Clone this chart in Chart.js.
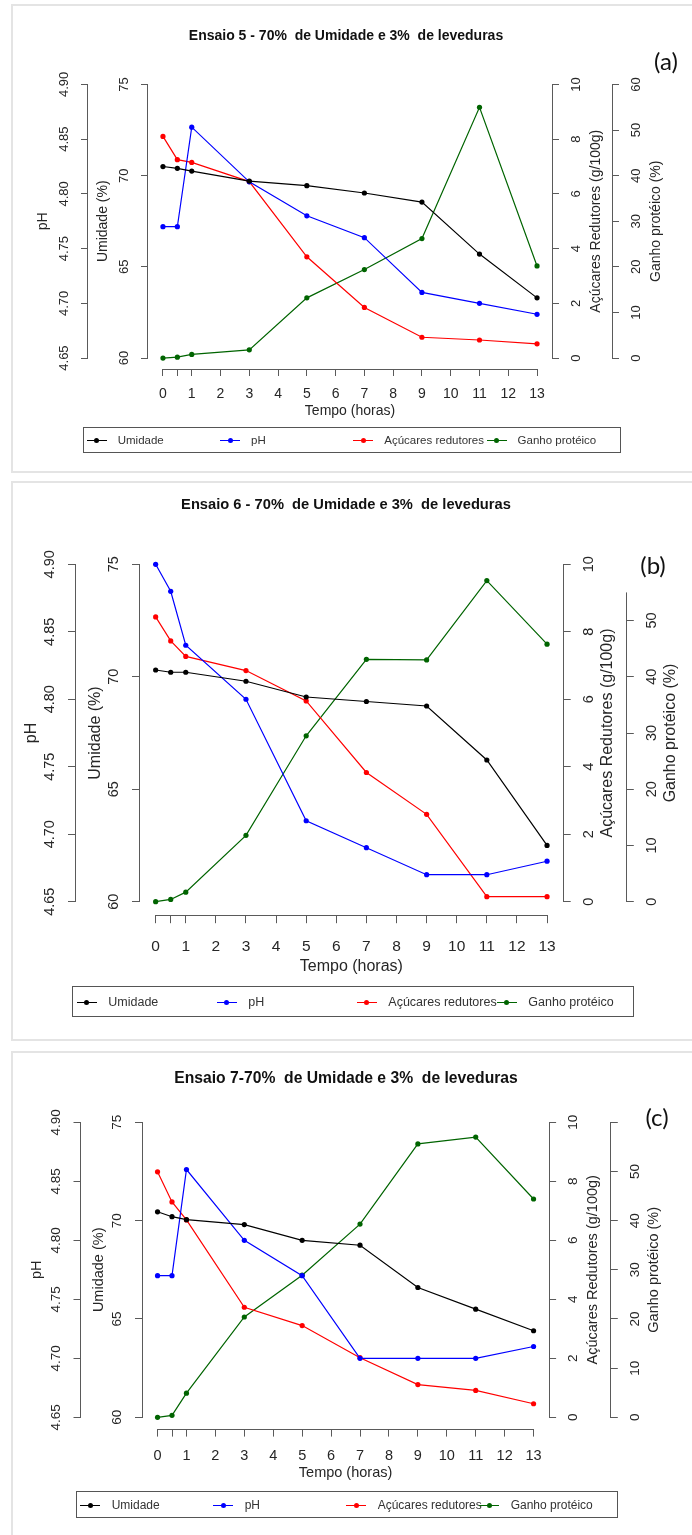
<!DOCTYPE html>
<html lang="pt-BR">
<head>
<meta charset="utf-8">
<title>Ensaios 5, 6 e 7 - 70% de Umidade e 3% de leveduras</title>
<script src="https://cdn.jsdelivr.net/npm/chart.js@4.4.1/dist/chart.umd.min.js"></script>
<style>
    html, body { margin: 0; padding: 0; background: #fff; }
    body { position: relative; width: 692px; height: 1535px; overflow: hidden; font-family: 'Liberation Sans', Arial, sans-serif; }
    .painel { position: absolute; left: 11px; width: 700px; border: 2px solid #e4e4e4; box-sizing: border-box; }
    canvas { position: absolute; left: 0; }
    .letra { position: absolute; font-family: Lato, 'Open Sans', sans-serif; font-size: 24px; line-height: 1; color: #111; transform: translate(-50%, -50%); }
    .legenda { position: absolute; border: 1px solid #555; box-sizing: border-box; }
    .legenda span { position: absolute; }
    .legenda .texto { color: #333; white-space: nowrap; top: 50%; transform: translateY(-50%); }
    .legenda .linha { width: 20px; height: 1px; top: 50%; }
    .legenda .ponto { width: 5px; height: 5px; border-radius: 50%; top: calc(50% - 2px); }
</style>
</head>
<body>
<div class="painel" style="top:4px;height:469px"></div>
<div class="painel" style="top:481px;height:560px"></div>
<div class="painel" style="top:1051px;height:500px"></div>

<canvas id="ensaio5" width="692" height="476" style="top:0px"></canvas>
<canvas id="ensaio6" width="692" height="570" style="top:477px"></canvas>
<canvas id="ensaio7" width="692" height="488" style="top:1047px"></canvas>

<div class="legenda" id="leg5" style="left:83px;top:427px;width:538px;height:26px"></div>
<div class="legenda" id="leg6" style="left:72px;top:986px;width:562px;height:31px"></div>
<div class="legenda" id="leg7" style="left:76px;top:1491px;width:542px;height:27px"></div>

<div class="letra" style="left:666px;top:61px">(a)</div>
<div class="letra" style="left:653px;top:565px">(b)</div>
<div class="letra" style="left:657px;top:1117px">(c)</div>

<script>
// tempos de coleta (horas) e marcas do eixo x
const horas = [0, 0.5, 1, 3, 5, 7, 9, 11, 13];
const marcasTempo = [0, 0.5, 1, 2, 3, 4, 5, 6, 7, 8, 9, 10, 11, 12, 13];

const series = ['Umidade', 'pH', 'Açúcares redutores', 'Ganho protéico'];
const cores = ['#000000', '#0000ff', '#ff0000', '#006400'];

// marcas dos eixos y
const marcasPH = [4.65, 4.70, 4.75, 4.80, 4.85, 4.90];
const marcasUmidade = [60, 65, 70, 75];
const marcasAcucares = [0, 2, 4, 6, 8, 10];
const marcasGanho = [0, 10, 20, 30, 40, 50, 60];
const marcasGanho6 = [0, 10, 20, 30, 40, 50];

// Ensaio 5
const umidade5 = [70.5, 70.4, 70.25, 69.7, 69.45, 69.05, 68.55, 65.7, 63.3];
const ph5 = [4.770, 4.770, 4.861, 4.811, 4.780, 4.760, 4.710, 4.700, 4.690];
const acucares5 = [8.10, 7.25, 7.15, 6.45, 3.70, 1.85, 0.76, 0.66, 0.52];
const ganho5 = [0, 0.2, 0.8, 1.8, 13.2, 19.4, 26.2, 55.0, 20.2];

// Ensaio 6
const umidade6 = [70.3, 70.2, 70.2, 69.8, 69.1, 68.9, 68.7, 66.3, 62.5];
const ph6 = [4.900, 4.880, 4.840, 4.800, 4.710, 4.690, 4.670, 4.670, 4.680];
const acucares6 = [8.44, 7.73, 7.27, 6.85, 5.95, 3.83, 2.59, 0.15, 0.15];
const ganho6 = [0, 0.4, 1.7, 11.8, 29.5, 43.1, 43.0, 57.1, 45.8];

// Ensaio 7
const umidade7 = [70.45, 70.2, 70.05, 69.8, 69.0, 68.75, 66.6, 65.5, 64.4];
const ph7 = [4.770, 4.770, 4.860, 4.800, 4.770, 4.700, 4.700, 4.700, 4.710];
const acucares7 = [8.32, 7.30, 6.69, 3.73, 3.11, 2.02, 1.11, 0.91, 0.46];
const ganho7 = [0, 0.4, 4.9, 20.4, 28.9, 39.3, 55.6, 57.0, 44.4];

const familia = "'Liberation Sans', Arial, Helvetica, sans-serif";
const corEixo = '#5a5a5a';
const corTexto = '#262626';

Chart.defaults.font.family = familia;

const medidor = document.createElement('canvas').getContext('2d');
function medir(textos, tamanho) {
    medidor.font = tamanho + 'px ' + familia;
    return Math.max(...textos.map(t => medidor.measureText(t).width));
}

// linhas dos eixos no estilo do R (da primeira a ultima marca) e titulos do lado direito
const eixosR = {
    id: 'eixosR',
    afterDraw(chart, args, opts) {
        const ctx = chart.ctx;
        ctx.save();
        ctx.strokeStyle = corEixo;
        ctx.lineWidth = 1;
        Object.values(chart.scales).forEach(s => {
            const valores = s.ticks.map(t => t.value);
            let a = Math.min(...valores), b = Math.max(...valores);
            const ext = (opts.extensao || {})[s.id];
            if (ext) { a = ext[0]; b = ext[1]; }
            const p1 = s.getPixelForValue(a), p2 = s.getPixelForValue(b);
            ctx.beginPath();
            if (s.isHorizontal()) {
                const y = Math.round(s.top) + 0.5;
                ctx.moveTo(p1, y); ctx.lineTo(p2, y);
            } else {
                const x = s.position === 'left' ? Math.round(s.right) - 0.5 : Math.round(s.left) + 0.5;
                ctx.moveTo(x, p1); ctx.lineTo(x, p2);
            }
            ctx.stroke();
        });
        const meio = (chart.chartArea.top + chart.chartArea.bottom) / 2;
        (opts.titulosDireita || []).forEach(t => {
            const s = chart.scales[t.eixo];
            ctx.save();
            ctx.translate(s.left + opts.distancia, meio);
            ctx.rotate(-Math.PI / 2);
            ctx.font = opts.fonte + 'px ' + familia;
            ctx.fillStyle = corTexto;
            ctx.textAlign = 'center';
            ctx.textBaseline = 'middle';
            ctx.fillText(t.texto, 0, 0);
            ctx.restore();
        });
        ctx.restore();
    }
};

// legenda em HTML com colunas de largura fixa, como no R
const legendaHtml = {
    id: 'legendaHtml',
    afterUpdate(chart, args, opts) {
        const caixa = document.getElementById(opts.caixa);
        caixa.innerHTML = '';
        const itens = chart.options.plugins.legend.labels.generateLabels(chart);
        itens.forEach((item, i) => {
            const x = opts.inicio + i * opts.coluna;
            const linha = document.createElement('span');
            linha.className = 'linha';
            linha.style.left = (x - 10) + 'px';
            linha.style.background = item.strokeStyle;
            const ponto = document.createElement('span');
            ponto.className = 'ponto';
            ponto.style.left = (x - 2.5) + 'px';
            ponto.style.background = item.strokeStyle;
            const texto = document.createElement('span');
            texto.className = 'texto';
            texto.style.left = (x + opts.recuo) + 'px';
            texto.style.fontSize = opts.fonte + 'px';
            texto.textContent = item.text;
            caixa.append(linha, ponto, texto);
        });
    }
};

function serie(i, valores, eixo) {
    return {
        label: series[i],
        data: horas.map((h, k) => ({ x: h, y: valores[k] })),
        yAxisID: eixo,
        borderColor: cores[i],
        backgroundColor: cores[i],
        borderWidth: 1.2,
        pointRadius: 2.6,
        pointBorderWidth: 0,
        pointHoverRadius: 2.6
    };
}

function eixoY(o, p) {
    const rotulos = o.marcas.map(o.formato);
    const larg = medir(rotulos, p.fonteY);
    const folga = (o.max - o.min) * 0.04;
    const lh = p.fonteTitEixo * 1.2;
    return {
        type: 'linear',
        position: o.lado,
        weight: o.peso,
        min: o.min - folga,
        max: o.max + folga,
        afterBuildTicks: s => { s.ticks = o.marcas.map(v => ({ value: v })); },
        afterFit: s => { s.width = o.largura; },
        border: { display: false },
        grid: { drawOnChartArea: false, tickLength: p.tick, color: corEixo },
        ticks: {
            autoSkip: false, minRotation: 90, maxRotation: 90, crossAlign: 'center',
            padding: p.dRotY - p.tick - larg / 2,
            font: { size: p.fonteY }, color: corTexto,
            callback: v => o.formato(v)
        },
        title: {
            display: o.lado === 'left', text: o.titulo,
            font: { size: p.fonteTitEixo }, color: corTexto,
            padding: { top: o.largura - p.dTitY - lh / 2, bottom: 0 }
        }
    };
}

function criarGrafico(p) {
    const lhTit = p.fonteTitulo * 1.2;
    const lhX = p.fonteX * 1.2;
    const lhTitX = p.fonteTitEixo * 1.2;
    const altX = p.dTitX + lhTitX / 2 + 4;
    const semRotulo = p.semRotuloGanho || [];
    new Chart(document.getElementById(p.canvas), {
        type: 'line',
        data: {
            datasets: [
                serie(0, p.umidade, 'um'),
                serie(1, p.ph, 'ph'),
                serie(2, p.acucares, 'ac'),
                serie(3, p.ganho, 'gp')
            ]
        },
        options: {
            responsive: false,
            animation: false,
            devicePixelRatio: 1,
            events: [],
            layout: { autoPadding: false, padding: { left: 0, right: 0, top: 0, bottom: p.altura - p.base - altX } },
            scales: {
                x: {
                    type: 'linear', min: -0.52, max: 13.52,
                    afterBuildTicks: s => { s.ticks = marcasTempo.map(v => ({ value: v })); },
                    afterFit: s => { s.height = altX; },
                    border: { display: false },
                    grid: { drawOnChartArea: false, tickLength: p.tick, color: corEixo },
                    ticks: {
                        autoSkip: false, maxRotation: 0,
                        padding: p.dRotX - p.tick - lhX / 2,
                        font: { size: p.fonteX }, color: corTexto,
                        callback: v => v === 0.5 ? '' : String(v)
                    },
                    title: { display: true, text: 'Tempo (horas)', font: { size: p.fonteTitEixo }, color: corTexto, padding: { top: 0, bottom: 4 } }
                },
                ph: eixoY({ lado: 'left', peso: 1, min: 4.65, max: 4.90, marcas: marcasPH, formato: v => v.toFixed(2), largura: p.larguras[0], titulo: 'pH' }, p),
                um: eixoY({ lado: 'left', peso: 0, min: 60, max: 75, marcas: marcasUmidade, formato: v => String(v), largura: p.larguras[1], titulo: 'Umidade (%)' }, p),
                ac: eixoY({ lado: 'right', peso: 0, min: 0, max: 10, marcas: marcasAcucares, formato: v => String(v), largura: p.larguras[2] }, p),
                gp: eixoY({ lado: 'right', peso: 1, min: 0, max: 60, marcas: p.marcasGanho, formato: v => semRotulo.includes(v) ? '' : String(v), largura: p.larguras[3] }, p)
            },
            plugins: {
                legend: { display: false },
                tooltip: { enabled: false },
                title: {
                    display: true, text: p.titulo, color: '#111',
                    font: { weight: 'bold', size: p.fonteTitulo },
                    padding: { top: p.tituloY - lhTit / 2, bottom: p.topo - p.tituloY - lhTit / 2 }
                },
                eixosR: {
                    distancia: p.dTitY, fonte: p.fonteTitEixo, extensao: p.extensao,
                    titulosDireita: [
                        { eixo: 'ac', texto: 'Açúcares Redutores (g/100g)' },
                        { eixo: 'gp', texto: 'Ganho protéico (%)' }
                    ]
                },
                legendaHtml: p.legenda
            }
        },
        plugins: [eixosR, legendaHtml]
    });
}

criarGrafico({
    canvas: 'ensaio5', altura: 476,
    titulo: 'Ensaio 5 - 70%  de Umidade e 3%  de leveduras', fonteTitulo: 14, tituloY: 36,
    topo: 73.5, base: 369, larguras: [88, 60, 60, 80],
    tick: 7, fonteX: 14, dRotX: 25.5, dTitX: 42,
    fonteY: 13, fonteTitEixo: 14, dRotY: 24, dTitY: 44.5,
    umidade: umidade5, ph: ph5, acucares: acucares5, ganho: ganho5,
    marcasGanho: marcasGanho,
    legenda: { caixa: 'leg5', inicio: 12.7, coluna: 133.3, recuo: 21, fonte: 11.5 }
});

criarGrafico({
    canvas: 'ensaio6', altura: 570,
    titulo: 'Ensaio 6 - 70%  de Umidade e 3%  de leveduras', fonteTitulo: 14.7, tituloY: 28,
    topo: 73.8, base: 438.2, larguras: [76, 64, 63.1, 66.2],
    tick: 8, fonteX: 15.5, dRotX: 31.3, dTitX: 51,
    fonteY: 14.5, fonteTitEixo: 16, dRotY: 26, dTitY: 44.5,
    umidade: umidade6, ph: ph6, acucares: acucares6, ganho: ganho6,
    marcasGanho: marcasGanho6, extensao: { gp: [0, 55] },
    legenda: { caixa: 'leg6', inicio: 13.7, coluna: 140, recuo: 21.6, fonte: 12.5 }
});

criarGrafico({
    canvas: 'ensaio7', altura: 488,
    titulo: 'Ensaio 7-70%  de Umidade e 3%  de leveduras', fonteTitulo: 15.7, tituloY: 32,
    topo: 63.5, base: 382.1, larguras: [81, 61.5, 61.7, 81.7],
    tick: 7.5, fonteX: 14.5, dRotX: 26.9, dTitX: 44.2,
    fonteY: 13.5, fonteTitEixo: 14.5, dRotY: 25, dTitY: 44,
    umidade: umidade7, ph: ph7, acucares: acucares7, ganho: ganho7,
    marcasGanho: marcasGanho, semRotuloGanho: [60],
    legenda: { caixa: 'leg7', inicio: 13, coluna: 133, recuo: 21.7, fonte: 12 }
});
</script>
</body>
</html>
